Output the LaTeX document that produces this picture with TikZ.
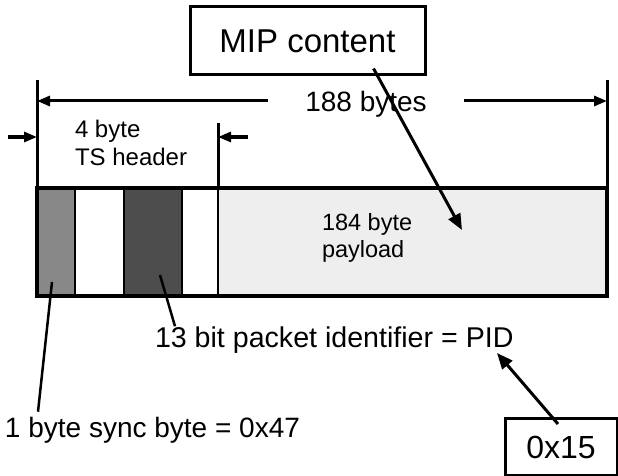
\documentclass[tikz,border=0pt]{standalone}
\usepackage{fontspec}
\setmainfont{Liberation Sans}
\usetikzlibrary{arrows.meta,calc}
\definecolor{SyncFill}{RGB}{136,136,136}
\definecolor{PidFill}{RGB}{77,77,77}
\definecolor{PayFill}{RGB}{238,238,238}
\tikzset{
  line cap=butt,
  %% packet fields
  fieldBox/.style={
    draw, line width=2pt,
    minimum height=108pt,
    inner sep=0pt, outer sep=0pt,
    anchor=north west,
  },
  outline/.style={draw, line width=4pt},
  %% labelled boxes
  lblBox/.style={
    draw, line width=3pt,
    inner sep=0pt,
  },
  txt/.style={inner sep=0pt, outer sep=0pt},
  %% lines and arrows
  dimLine/.style={line width=3pt},
  dimArr/.style={
    -{Triangle[length=13pt,width=10pt]},
    line width=3pt,
  },
  arr/.style={
    -{Triangle[length=16pt,width=13pt]},
    line width=3pt,
  },
  leader/.style={line width=2.5pt},
}

\begin{document}
\begin{tikzpicture}[x=1pt,y=-1pt]
\useasboundingbox (0,0) rectangle (618,476);

%% -- packet fields ---------------------------------------------------------
\node[fieldBox, fill=SyncFill, minimum width=38pt] (sync) at (37,188) {};
\node[fieldBox, minimum width=49pt]                (hdrA) at (sync.north east) {};
\node[fieldBox, fill=PidFill, minimum width=58pt]  (pid)  at (hdrA.north east) {};
\node[fieldBox, minimum width=36pt]                (hdrB) at (pid.north east) {};
\node[fieldBox, fill=PayFill, minimum width=389pt] (pay)  at (hdrB.north east) {};
\draw[outline] (sync.north west) rectangle (pay.south east);

\node[txt, font=\fontsize{23.5}{27}\selectfont, align=left, anchor=base west]
  (payLbl) at (322,257) {184 byte\\payload};

%% -- 188 byte dimension ----------------------------------------------------
\coordinate (topL) at (37,80);
\coordinate (topR) at (607,80);
\draw[dimLine] (topL) -- (sync.north west);
\draw[dimLine] (topR) -- (pay.north east);

\node[txt, font=\fontsize{28}{32}\selectfont, anchor=base, inner xsep=37pt]
  (len188) at (366,112) {188 bytes};
\coordinate (arrL) at (37,101);
\coordinate (arrR) at (607,101);
\draw[dimArr] (len188.west |- arrL) -- (arrL);
\draw[dimArr] (len188.east |- arrR) -- (arrR);

%% -- header dimension ------------------------------------------------------
\coordinate (hdrTop) at (218,123);
\draw[dimLine] (hdrTop) -- (hdrB.north east);
\coordinate (hdrInL) at (8,137);
\coordinate (hdrInR) at (248,137);
\draw[dimArr] (hdrInL) -- (hdrInL -| sync.west);
\draw[dimArr] (hdrInR) -- (hdrInR -| hdrB.east);

\node[txt, font=\fontsize{24}{28}\selectfont, align=left, anchor=base west]
  (hdrLbl) at (75,165) {4 byte\\TS header};

%% -- MIP content -----------------------------------------------------------
\node[lblBox, font=\fontsize{33}{36}\selectfont, minimum width=235pt, minimum height=68pt]
  (mip) at (307.5,41) {MIP content};
\coordinate (payPt) at (462,230);
\draw[arr] ($(mip.south)+(66,-8)$) -- (payPt);

%% -- field annotations -----------------------------------------------------
\node[txt, font=\fontsize{28.6}{32}\selectfont, anchor=base west]
  (pidLbl) at (155,347) {13 bit packet identifier = PID};
\coordinate (pidPt) at (160,275);
\draw[leader] ($(pidLbl.north west)+(20,0)$) -- (pidPt);

\node[txt, font=\fontsize{28}{32}\selectfont, anchor=base west]
  (syncLbl) at (5,437) {1 byte sync byte = 0x47};
\coordinate (syncPt) at (52,282);
\draw[leader] ($(syncLbl.north west)+(33,-5)$) -- (syncPt);

%% -- PID value -------------------------------------------------------------
\node[lblBox, font=\fontsize{32}{36}\selectfont, minimum width=112pt, minimum height=57pt]
  (pidVal) at (561,447) {0x15};
\coordinate (pidTip) at (497,353);
\draw[arr] ($(pidVal.north)+(-3,7)$) -- (pidTip);

\end{tikzpicture}
\end{document}
